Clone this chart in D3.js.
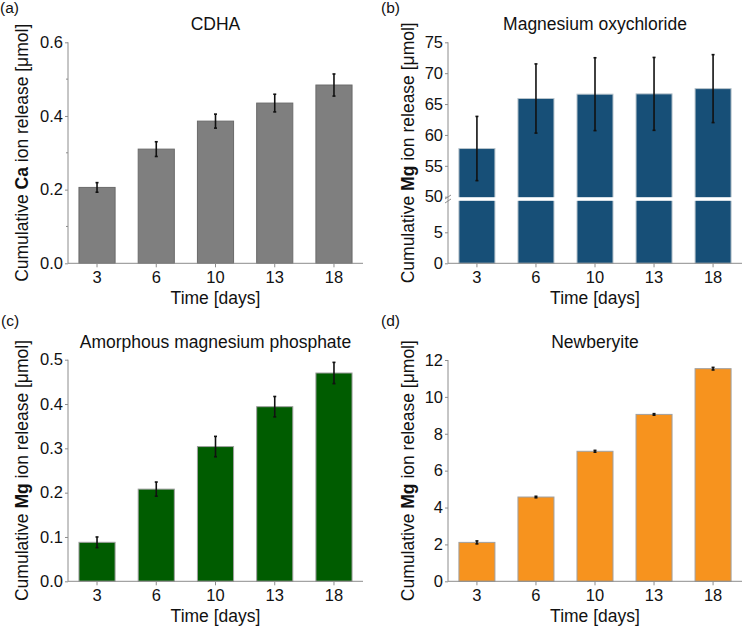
<!DOCTYPE html>
<html><head><meta charset="utf-8">
<script src="https://cdn.jsdelivr.net/npm/d3@7"></script>
<style>body{margin:0;background:#fff}text{font-family:"Liberation Sans",Arial,sans-serif}</style>
</head><body>
<svg id="c" width="743" height="626"></svg>
<script>
const days = ["3","6","10","13","18"];
const cdhaVals = [0.206,0.310,0.386,0.435,0.484];
const cdhaErr  = [0.013,0.020,0.019,0.024,0.030];
const mocVals  = [57.8,65.9,66.6,66.65,67.5];
const mocErr   = [5.2,5.6,5.9,5.9,5.5];
const ampVals  = [0.088,0.208,0.304,0.394,0.470];
const ampErr   = [0.012,0.016,0.023,0.023,0.024];
const newVals  = [2.11,4.57,7.05,9.05,11.53];
const newErr   = [0.08,0.04,0.05,0.04,0.07];
const cdhaTicks = [0.0,0.2,0.4,0.6];
const cdhaMinor = [0.1,0.3,0.5];
const mocTicksLow = [0,5];
const mocTicksHigh = [50,55,60,65,70,75];
const ampTicks = [0.0,0.1,0.2,0.3,0.4,0.5];
const newTicks = [0,2,4,6,8,10,12];

const svg = d3.select("#c");
const axisColor = "#8c8c8c";
const TICK_FS = 16.5, LAB_FS = 17.5, TITLE_FS = 17.5;

function panel(o){
  const g = svg.append("g");
  const x = d3.scaleBand().domain(days).range([o.x0,o.x1]).paddingInner(0.39).paddingOuter(0.185);
  let yfn;
  if(o.broken){
    const yLow = d3.scaleLinear().domain([0,10]).range([o.yb, o.yb-62]);
    const yHigh = d3.scaleLinear().domain([50,75]).range([o.yb-66.6, o.yt]);
    yfn = v => v>=50 ? yHigh(v) : yLow(v);
    o.yLow=yLow; o.yHigh=yHigh;
  } else {
    const y = d3.scaleLinear().domain(o.domain).range([o.yb,o.yt]);
    yfn = y; o.y=y;
  }
  g.selectAll("rect.bar").data(o.vals).join("rect").attr("class","bar")
    .attr("x",(d,i)=>x(days[i])).attr("width",x.bandwidth())
    .attr("y",d=>yfn(d)).attr("height",d=>o.yb-yfn(d))
    .attr("fill",o.fill).attr("stroke",o.stroke).attr("stroke-width",1);
  if(o.broken){
    const gTop = o.yHigh(50), gBot = o.yLow(10);
    g.append("rect").attr("x",o.x0+1).attr("width",o.x1-o.x0).attr("y",gTop+0.5).attr("height",gBot-gTop-1).attr("fill","#fff");
  }
  const eg = g.append("g").attr("stroke","#111").attr("stroke-width",1.6);
  o.vals.forEach((v,i)=>{
    const cx = x(days[i])+x.bandwidth()/2;
    const e = o.err[i];
    eg.append("line").attr("x1",cx).attr("x2",cx).attr("y1",yfn(v+e)).attr("y2",yfn(v-e));
    eg.append("line").attr("x1",cx-1.5).attr("x2",cx+1.5).attr("y1",yfn(v+e)).attr("y2",yfn(v+e));
    eg.append("line").attr("x1",cx-1.5).attr("x2",cx+1.5).attr("y1",yfn(v-e)).attr("y2",yfn(v-e));
  });
  const xa = g.append("g").attr("transform",`translate(0,${o.yb})`)
    .call(d3.axisBottom(x).tickSize(4).tickSizeOuter(0));
  xa.select(".domain").attr("stroke",axisColor).attr("d",`M${o.x0},0H${o.x1}`);
  xa.selectAll(".tick line").attr("stroke",axisColor);
  xa.selectAll(".tick text").attr("font-size",TICK_FS).attr("fill","#111").attr("y",7).attr("dy","0.75em").attr("font-family","Liberation Sans, Arial, sans-serif");
  if(o.broken){
    const ya1 = g.append("g").attr("transform",`translate(${o.x0},0)`).call(d3.axisLeft(o.yLow).tickValues(mocTicksLow).tickSize(3).tickSizeOuter(0).tickFormat(d3.format("d")));
    const ya2 = g.append("g").attr("transform",`translate(${o.x0},0)`).call(d3.axisLeft(o.yHigh).tickValues(mocTicksHigh).tickSize(3).tickSizeOuter(0).tickFormat(d3.format("d")));
    [ya1,ya2].forEach(a=>{a.select(".domain").remove();a.selectAll(".tick line").attr("stroke",axisColor);
      a.selectAll(".tick text").attr("font-size",TICK_FS).attr("fill","#111").attr("x",-5).attr("font-family","Liberation Sans, Arial, sans-serif");});
    g.append("line").attr("x1",o.x0).attr("x2",o.x0).attr("y1",o.yt).attr("y2",o.yb).attr("stroke",axisColor);
    const my = (o.yHigh(50)+o.yLow(10))/2;
    [-2,2].forEach(dy=>g.append("line").attr("x1",o.x0-3).attr("x2",o.x0+3).attr("y1",my+dy+2).attr("y2",my+dy-2).attr("stroke",axisColor).attr("stroke-width",1));
  } else {
    const ya = g.append("g").attr("transform",`translate(${o.x0},0)`)
      .call(d3.axisLeft(o.y).tickValues(o.ticks).tickSize(3).tickSizeOuter(0).tickFormat(o.fmt));
    ya.select(".domain").attr("stroke",axisColor).attr("d",`M0,${o.yt}V${o.yb}`);
    ya.selectAll(".tick line").attr("stroke",axisColor);
    ya.selectAll(".tick text").attr("font-size",TICK_FS).attr("fill","#111").attr("x",-5).attr("font-family","Liberation Sans, Arial, sans-serif");
    if(o.minor){
      g.append("g").selectAll("line").data(o.minor).join("line")
        .attr("x1",o.x0-2).attr("x2",o.x0).attr("y1",d=>o.y(d)).attr("y2",d=>o.y(d)).attr("stroke",axisColor);
    }
  }
  const cx = (o.x0+o.x1)/2;
  g.append("text").attr("x",cx).attr("y",o.yt-12).attr("text-anchor","middle").attr("font-size",TITLE_FS).attr("fill","#111").text(o.title);
  g.append("text").attr("x",cx).attr("y",o.yb+41).attr("text-anchor","middle").attr("font-size",LAB_FS).attr("fill","#111").text("Time [days]");
  const cy = (o.yt+o.yb)/2;
  const yl = g.append("text").attr("transform",`translate(${o.lx},${cy}) rotate(-90)`).attr("text-anchor","middle").attr("font-size",LAB_FS).attr("fill","#111");
  yl.append("tspan").text("Cumulative ");
  yl.append("tspan").attr("font-weight","bold").text(o.ion);
  yl.append("tspan").text(" ion release [μmol]");
  g.append("text").attr("x",o.px).attr("y",o.py).attr("font-size",15.5).attr("fill","#111").text(o.label);
}

panel({x0:68,x1:363,yt:42.3,yb:263.3,domain:[0,0.6],ticks:cdhaTicks,minor:cdhaMinor,fmt:d3.format(".1f"),
  vals:cdhaVals,err:cdhaErr,fill:"#7f7f7f",stroke:"#6a6a6a",title:"CDHA",ion:"Ca",lx:28,label:"(a)",px:0,py:13});
panel({x0:448,x1:742,yt:42.3,yb:263.3,broken:true,
  vals:mocVals,err:mocErr,fill:"#174f77",stroke:"#b8c4cc",title:"Magnesium oxychloride",ion:"Mg",lx:414,label:"(b)",px:381,py:13});
panel({x0:68,x1:363,yt:359.7,yb:581.3,domain:[0,0.5],ticks:ampTicks,fmt:d3.format(".1f"),
  vals:ampVals,err:ampErr,fill:"#005c00",stroke:"#a0a0a0",title:"Amorphous magnesium phosphate",ion:"Mg",lx:28,label:"(c)",px:1,py:326});
panel({x0:448,x1:742,yt:360,yb:581.3,domain:[0,12],ticks:newTicks,fmt:d3.format("d"),
  vals:newVals,err:newErr,fill:"#f7931e",stroke:"#a0a0a0",title:"Newberyite",ion:"Mg",lx:414,label:"(d)",px:381,py:326});
</script>
</body></html>
